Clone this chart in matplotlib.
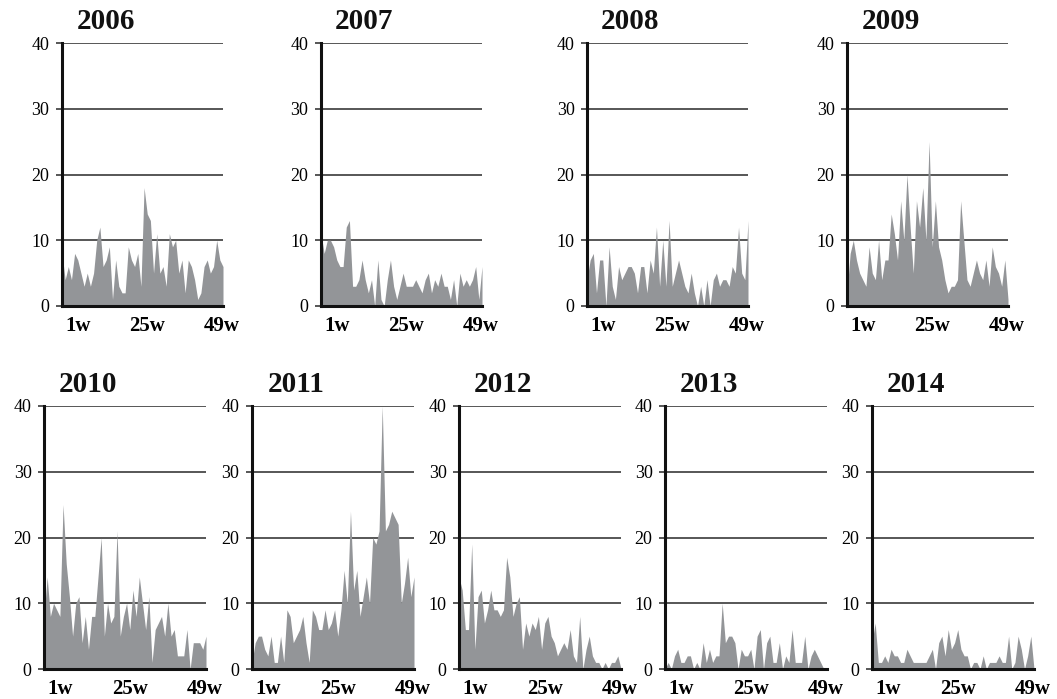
import matplotlib
matplotlib.use('Agg')
import matplotlib.pyplot as plt

plt.rcParams['font.family'] = ['Liberation Serif', 'DejaVu Serif']

years = ['2006', '2007', '2008', '2009', '2010', '2011', '2012', '2013', '2014']

# weekly counts (weeks 1..52)
w2006 = [8, 4, 6, 4, 8, 7, 5, 3, 5, 3, 5, 10, 12, 6, 7, 9, 1, 7, 3, 2, 2, 9, 7, 6, 8, 3,
         18, 14, 13, 5, 11, 5, 6, 3, 11, 9, 10, 5, 7, 2, 7, 6, 4, 1, 2, 6, 7, 5, 6, 10, 7, 6]
w2007 = [11, 8, 10, 10, 9, 7, 6, 6, 12, 13, 3, 3, 4, 7, 4, 2, 4, 0, 7, 1, 0, 4, 7, 3, 1, 3,
         5, 3, 3, 3, 4, 3, 2, 4, 5, 2, 4, 3, 5, 3, 3, 1, 4, 0, 5, 3, 4, 3, 4, 6, 1, 6]
w2008 = [4, 7, 8, 2, 7, 7, 0, 9, 3, 1, 6, 4, 5, 6, 6, 5, 2, 6, 6, 2, 7, 5, 12, 3, 10, 3,
         13, 3, 5, 7, 5, 3, 2, 5, 2, 0, 3, 0, 4, 0, 4, 5, 3, 4, 4, 3, 6, 5, 12, 5, 4, 13]
w2009 = [2, 8, 10, 7, 5, 4, 3, 9, 5, 4, 10, 4, 7, 7, 14, 11, 7, 16, 10, 20, 12, 5, 16, 12, 18, 10,
         25, 9, 16, 9, 7, 4, 2, 3, 3, 4, 16, 10, 4, 3, 5, 7, 5, 4, 7, 3, 9, 6, 5, 3, 7, 1]
w2010 = [8, 14, 8, 10, 9, 8, 25, 16, 11, 5, 10, 11, 4, 8, 3, 8, 8, 14, 20, 5, 10, 7, 8, 21, 5, 8,
         10, 6, 12, 8, 14, 10, 6, 11, 1, 6, 7, 8, 5, 10, 5, 6, 2, 2, 2, 6, 0, 4, 4, 4, 3, 5]
w2011 = [1, 4, 5, 5, 3, 2, 5, 1, 1, 5, 1, 9, 8, 4, 5, 6, 8, 4, 1, 9, 8, 6, 6, 9, 6, 7,
         9, 5, 9, 15, 10, 24, 12, 15, 8, 11, 14, 10, 20, 19, 21, 40, 21, 22, 24, 23, 22, 10, 13, 17, 11, 14]
w2012 = [14, 12, 6, 6, 19, 3, 11, 12, 7, 9, 12, 9, 9, 8, 9, 17, 14, 8, 10, 11, 3, 7, 5, 7, 6, 8,
         3, 7, 8, 5, 4, 2, 3, 4, 3, 6, 2, 1, 8, 0, 3, 5, 2, 1, 1, 0, 1, 0, 1, 1, 2, 0]
w2013 = [0, 1, 0, 2, 3, 1, 1, 2, 2, 0, 1, 0, 4, 1, 3, 1, 2, 2, 10, 4, 5, 5, 4, 0, 3, 2,
         2, 3, 0, 5, 6, 0, 4, 5, 1, 1, 4, 0, 2, 1, 6, 1, 1, 1, 5, 0, 2, 3, 2, 1, 0, 0]
w2014 = [4, 7, 1, 1, 2, 1, 3, 2, 2, 1, 1, 3, 2, 1, 1, 1, 1, 1, 2, 3, 0, 4, 5, 2, 6, 3,
         4, 6, 3, 2, 2, 0, 1, 1, 0, 2, 0, 1, 1, 1, 2, 1, 1, 5, 0, 1, 5, 3, 0, 2, 5, 0]

series = [w2006, w2007, w2008, w2009, w2010, w2011, w2012, w2013, w2014]
xlabels = ['1w', '25w', '49w']
yticks = [0, 10, 20, 30, 40]

W, H = 1057, 699
fig = plt.figure(figsize=(W / 100, H / 100), dpi=100)

# panel boxes in pixels: left, top, right, bottom
top_lefts = [62, 321, 587, 847]
bot_lefts = [44, 252, 459, 665, 872]
boxes = [(l, 43, l + 161, 306) for l in top_lefts] + [(l, 406, l + 162, 669) for l in bot_lefts]

fill_col = '#939598'
grid_col = '#3a3a3a'

for yr, vals, (l, t, r, b) in zip(years, series, boxes):
    ax = fig.add_axes([l / W, 1 - b / H, (r - l) / W, (b - t) / H])
    x = list(range(len(vals)))
    ax.fill_between(x, vals, 0, color=fill_col, lw=0, zorder=2)
    n = len(vals) - 1
    ax.set_xlim(0, n)
    ax.set_ylim(0, 40)
    ax.set_yticks(yticks)
    ax.yaxis.grid(True, color=grid_col, lw=1.2, zorder=1)
    ax.set_axisbelow(True)
    ax.set_xticks([0.10 * n, 0.53 * n, 0.99 * n])
    ax.set_xticklabels(xlabels, fontsize=15, fontweight='bold')
    ax.tick_params(axis='x', length=0, pad=7)
    ax.tick_params(axis='y', length=4, width=1.2, color=grid_col, labelsize=13, pad=5)
    for s in ['top', 'right']:
        ax.spines[s].set_visible(False)
    for s in ['left', 'bottom']:
        ax.spines[s].set_linewidth(2.2)
        ax.spines[s].set_color('#111111')
        ax.spines[s].set_zorder(3)
    ax.text(0.27, 1 + 14 / (b - t), yr, transform=ax.transAxes, ha='center',
            va='baseline', fontsize=21, fontweight='bold', color='#111111')

fig.savefig('out.png', dpi=100)
